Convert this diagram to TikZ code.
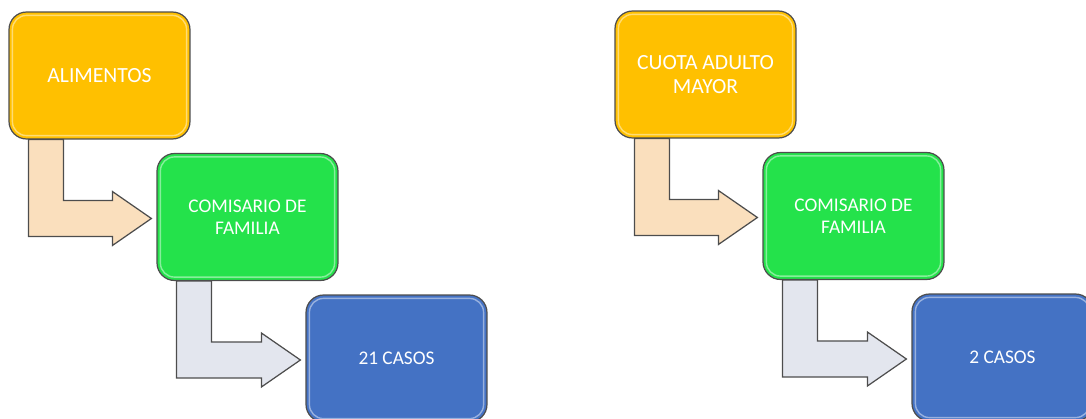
\documentclass[tikz,border=0pt]{standalone}
\usepackage{fontspec}
\setsansfont{Carlito}
\usetikzlibrary{calc}
\definecolor{boxorange}{HTML}{FFC000}
\definecolor{boxgreen}{HTML}{24E24B}
\definecolor{boxblue}{HTML}{4472C4}
\definecolor{arrowpeach}{HTML}{FADFBD}
\definecolor{arrowsteel}{HTML}{E3E6EE}
\definecolor{edgegray}{HTML}{4D4D4D}
\tikzset{
  casebox/.style={draw=edgegray, line width=0.7pt, rounded corners=10pt,
    minimum width=3.62cm, minimum height=2.54cm, align=center, text=white,
    font=\sffamily\fontsize{11}{12.5}\selectfont},
  bigtext/.style={font=\sffamily\fontsize{12.3}{13.5}\selectfont},
  gloss/.style={draw=white, opacity=0.45, line width=0.8pt, rounded corners=8pt},
  bent/.style={draw=edgegray, line width=0.7pt, line join=miter}
}
\begin{document}
\begin{tikzpicture}[x=0.02cm, y=-0.02cm, font=\sffamily]
        \useasboundingbox (0,0) rectangle (1086,419);
        \clip (0,0) rectangle (1086,419);
        \foreach \g/\dx/\dy/\first/\last in {l/0/0/ALIMENTOS/21 CASOS, r/606/-1/{CUOTA ADULTO\\MAYOR}/2 CASOS} {
          \node[casebox, bigtext, fill=boxorange] (top\g) at (99.5+\dx, 75.5+\dy) {\first};
          \node[casebox, fill=boxgreen] (mid\g) at (247.5+\dx, 217+\dy) {COMISARIO DE\\FAMILIA};
          \node[casebox, fill=boxblue] (bot\g) at (396.5+\dx, 358.5+\dy) {\last};
          \foreach \n in {top,mid,bot}
            \draw[gloss] ($(\n\g.south west)+(4,-4)$) rectangle ($(\n\g.north east)+(-4,4)$);
          \foreach \a/\b/\c in {top/mid/arrowpeach, mid/bot/arrowsteel} {
            \coordinate (s) at ($(\a\g.south west)+(20,0)$);
            \coordinate (t) at ($(\b\g.west)+(-5,1.5)$);
            \draw[bent, fill=\c] (s) -- ($(s |- t)+(0,18)$) -- ($(t)+(-39,18)$) -- ++(0,9) -- (t)
              -- ($(t)+(-39,-27)$) -- ++(0,9) -- ($(s |- t)+(35,-18)$) -- ($(s)+(35,0)$) -- cycle;
          }
        }
      \end{tikzpicture}
\end{document}
